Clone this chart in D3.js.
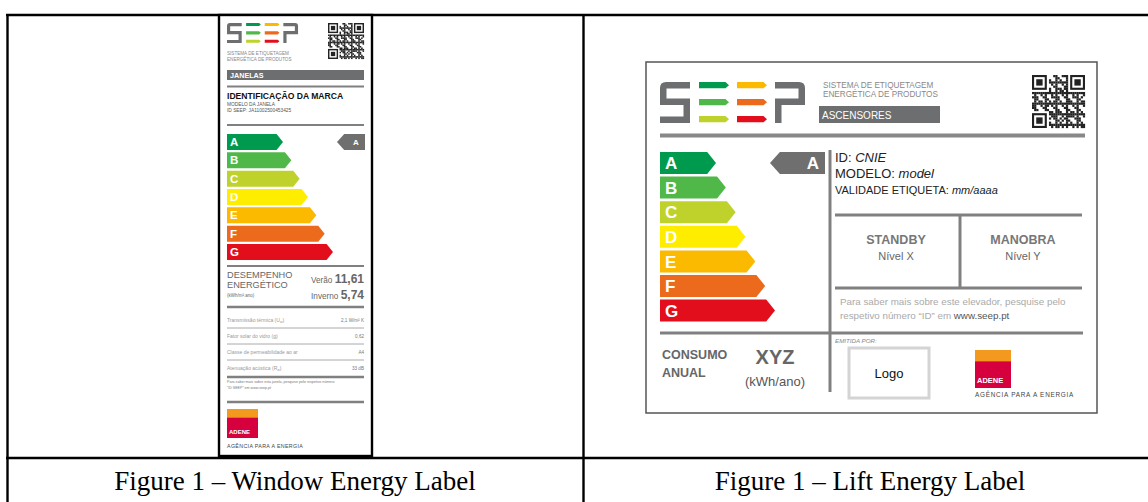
<!DOCTYPE html>
<html lang="pt">
<head>
<meta charset="utf-8">
<title>SEEP energy labels</title>
<script src="https://cdn.jsdelivr.net/npm/d3@7"></script>
<style>
  body { margin: 0; background: #fff; }
  svg text { font-family: "Liberation Sans", Arial, sans-serif; }
  .caption { font-family: "Liberation Serif", "Times New Roman", serif !important; }
</style>
</head>
<body>
<script>
// data
var classes = ["A", "B", "C", "D", "E", "F", "G"];
var windowClass = "A";
var liftClass = "A";
var windowId = "JA11002500453425";
var seasonNames = ["Verão", "Inverno"];
var seasonValues = ["11,61", "5,74"];
var specNames = ["Transmissão térmica (U", "Fator solar do vidro (g)", "Classe de permeabilidade ao ar", "Atenuação acústica (R"];
var specSubs = ["w", "", "", "w"];
var specValues = ["2,1 W/m² K", "0,62", "A4", "33 dB"];
var liftModes = ["STANDBY", "MANOBRA"];
var liftLevels = ["Nível X", "Nível Y"];
var captions = ["Figure 1 – Window Energy Label", "Figure 1 – Lift Energy Label"];

var W = 1148, H = 502;
var gray = "#6d6e70";
var colour = d3.scaleOrdinal().domain(classes)
  .range(["#009a4e", "#50b848", "#bfd22b", "#ffed00", "#fbb900", "#ec6a1c", "#e30e1c"]);

var svg = d3.select("body").append("svg").attr("width", W).attr("height", H);

// ---------- table ----------
var table = svg.append("g").attr("stroke", "#000").attr("stroke-width", 2.4);
table.append("line").attr("x1", 6).attr("x2", W).attr("y1", 15).attr("y2", 15);
table.append("line").attr("x1", 6).attr("x2", W).attr("y1", 458).attr("y2", 458);
table.append("line").attr("x1", 7.5).attr("x2", 7.5).attr("y1", 14).attr("y2", H);
table.append("line").attr("x1", 583.5).attr("x2", 583.5).attr("y1", 14).attr("y2", H);

var capX = d3.scalePoint().domain(captions).range([295, 870]);
svg.selectAll("text.caption").data(captions).enter().append("text")
  .attr("class", "caption")
  .attr("x", function(d) { return capX(d); })
  .attr("y", 490)
  .attr("text-anchor", "middle")
  .attr("font-size", 27)
  .text(function(d) { return d; });

// ---------- helpers ----------
function seepLogo(g, x, y, k) {
  var lg = g.append("g").attr("transform", "translate(" + x + "," + y + ") scale(" + k + ")");
  var t = 6.5;
  // S
  lg.append("path").attr("fill", gray)
    .attr("d", "M6,0 H30 V" + t + " H" + t + " V16.5 H30 V41 H0 V" + (41 - t) + " H" + (30 - t) + " V" + (16.5 + t) + " H0 V6 Q0,0 6,0 Z");
  // P
  lg.append("path").attr("fill", gray)
    .attr("d", "M115,0 H139 Q145,0 145,6 V" + (16.5 + t) + " H" + (115 + t) + " V41 H115 V16.5 H" + (145 - t) + " V" + t + " H115 Z");
  // arrows
  var cols = [["A", "B", "C"], ["E", "F", "G"]];
  cols.forEach(function(col, ci) {
    col.forEach(function(c, ri) {
      var x0 = 39 + ci * 38, y0 = ri * 17, w = 30, h = 6.3;
      lg.append("path").attr("fill", colour(c))
        .attr("d", "M" + x0 + "," + y0 + " H" + (x0 + w - 3.5) + " L" + (x0 + w) + "," + (y0 + h / 2) +
          " L" + (x0 + w - 3.5) + "," + (y0 + h) + " H" + x0 + " Z");
    });
  });
}

function qr(g, x, y, size) {
  var n = 25, m = size / n;
  var q = g.append("g").attr("transform", "translate(" + x + "," + y + ")");
  var cells = [];
  for (var i = 0; i < n; i++) for (var j = 0; j < n; j++) {
    var finder = (i < 8 && j < 8) || (i < 8 && j >= n - 8) || (i >= n - 8 && j < 8);
    if (finder) continue;
    if (((i * 7 + j * 11 + i * j * 3) % 5) < 2 || ((i + j * j) % 7 === 0)) cells.push([i, j]);
  }
  q.selectAll("rect.m").data(cells).enter().append("rect")
    .attr("x", function(d) { return d[1] * m; }).attr("y", function(d) { return d[0] * m; })
    .attr("width", m + 0.1).attr("height", m + 0.1).attr("fill", "#222");
  [[0, 0], [0, n - 7], [n - 7, 0]].forEach(function(p) {
    q.append("rect").attr("x", p[1] * m + m / 2).attr("y", p[0] * m + m / 2)
      .attr("width", 6 * m).attr("height", 6 * m).attr("fill", "none").attr("stroke", "#222").attr("stroke-width", m);
    q.append("rect").attr("x", (p[1] + 2) * m).attr("y", (p[0] + 2) * m)
      .attr("width", 3 * m).attr("height", 3 * m).attr("fill", "#222");
  });
}

function adene(g, x, y, w, h, fs, agfs, agy, ls) {
  g.append("rect").attr("x", x).attr("y", y).attr("width", w).attr("height", h).attr("fill", "#d5003d");
  g.append("rect").attr("x", x).attr("y", y).attr("width", w).attr("height", h * 0.3).attr("fill", "#f39a1e");
  g.append("text").attr("x", x + 2).attr("y", y + h - h * 0.14).attr("font-size", fs)
    .attr("font-weight", "bold").attr("fill", "#fff").text("ADENE");
  g.append("text").attr("x", x).attr("y", agy).attr("font-size", agfs).attr("letter-spacing", ls)
    .attr("fill", "#444").text("AGÊNCIA PARA A ENERGIA");
}

function classBars(g, y, x, x0, fs, dx) {
  var h = y.bandwidth(), d = h * 0.4;
  var bars = g.selectAll("g.bar").data(classes).enter().append("g").attr("class", "bar");
  bars.append("path").attr("fill", function(c) { return colour(c); })
    .attr("d", function(c, i) {
      var t = x(i), y0 = y(c);
      return "M" + x0 + "," + y0 + " H" + (t - d) + " L" + t + "," + (y0 + h / 2) +
        " L" + (t - d) + "," + (y0 + h) + " H" + x0 + " Z";
    });
  bars.append("text").attr("x", x0 + dx).attr("y", function(c) { return y(c) + h / 2 + fs * 0.36; })
    .attr("font-size", fs).attr("font-weight", "bold").attr("fill", "#fff").text(function(c) { return c; });
}

function indicator(g, y, c, x0, x1, fs, lx) {
  var h = y.bandwidth(), d = h * 0.45, y0 = y(c);
  g.append("path").attr("fill", "#6f6f6f")
    .attr("d", "M" + x1 + "," + y0 + " V" + (y0 + h) + " H" + (x0 + d) + " L" + x0 + "," + (y0 + h / 2) +
      " L" + (x0 + d) + "," + y0 + " Z");
  g.append("text").attr("x", lx).attr("y", y0 + h / 2 + fs * 0.36).attr("text-anchor", "middle")
    .attr("font-size", fs).attr("font-weight", "bold").attr("fill", "#fff").text(c);
}

function hline(g, x1, x2, y, sw, col) {
  g.append("line").attr("x1", x1).attr("x2", x2).attr("y1", y).attr("y2", y)
    .attr("stroke", col || "#808080").attr("stroke-width", sw);
}

// ---------- window label ----------
var wl = svg.append("g");
wl.append("rect").attr("x", 219).attr("y", 15).attr("width", 153).attr("height", 441)
  .attr("fill", "#fff").attr("stroke", "#000").attr("stroke-width", 2.4);
seepLogo(wl, 227, 23, 0.49);
qr(wl, 328, 23, 36);
wl.append("text").attr("x", 227).attr("y", 55).attr("font-size", 4.6).attr("fill", "#888").text("SISTEMA DE ETIQUETAGEM");
wl.append("text").attr("x", 227).attr("y", 61).attr("font-size", 4.6).attr("fill", "#888").text("ENERGÉTICA DE PRODUTOS");
wl.append("rect").attr("x", 227).attr("y", 70).attr("width", 137).attr("height", 10).attr("fill", gray);
wl.append("text").attr("x", 230).attr("y", 78).attr("font-size", 7.2).attr("font-weight", "bold").attr("fill", "#fff").text("JANELAS");
hline(wl, 227, 364, 86.5, 2);
wl.append("text").attr("x", 227).attr("y", 99).attr("font-size", 8.6).attr("font-weight", "bold").attr("fill", "#111").text("IDENTIFICAÇÃO DA MARCA");
wl.append("text").attr("x", 227).attr("y", 106).attr("font-size", 4.8).attr("fill", "#555").text("MODELO DA JANELA");
wl.append("text").attr("x", 227).attr("y", 112).attr("font-size", 4.8).attr("fill", "#555").text("ID SEEP:  " + windowId);
hline(wl, 227, 364, 125, 2);

var yW = d3.scaleBand().domain(classes).range([134, 260]).paddingInner(0.125);
var xW = d3.scaleLinear().domain([0, classes.length - 1]).range([283, 333]);
classBars(wl, yW, xW, 227, 11.5, 3);
indicator(wl, yW, windowClass, 337, 365, 8, 356);
hline(wl, 227, 364, 266, 2.2);

wl.append("text").attr("x", 227).attr("y", 278).attr("font-size", 9.2).attr("fill", "#666").text("DESEMPENHO");
wl.append("text").attr("x", 227).attr("y", 288).attr("font-size", 9.2).attr("fill", "#666").text("ENERGÉTICO");
wl.append("text").attr("x", 227).attr("y", 297).attr("font-size", 4.5).attr("fill", "#666").text("(kWh/m².ano)");
seasonNames.forEach(function(s, i) {
  var t = wl.append("text").attr("x", 364).attr("y", 283 + i * 16).attr("text-anchor", "end").attr("fill", "#666");
  t.append("tspan").attr("font-size", 8.2).text(s + " ");
  t.append("tspan").attr("font-size", 12).attr("font-weight", "bold").text(seasonValues[i]);
});
hline(wl, 227, 364, 307, 2.4);
var rowY = d3.scaleBand().domain(specNames).range([312, 376]);
specNames.forEach(function(s, i) {
  var yy = rowY(s) + rowY.bandwidth() / 2 + 2;
  var t = wl.append("text").attr("x", 227).attr("y", yy).attr("font-size", 5).attr("fill", "#999").text(s);
  if (specSubs[i]) {
    t.append("tspan").attr("font-size", 3.5).attr("dy", 1).text(specSubs[i]);
    t.append("tspan").attr("dy", -1).text(")");
  }
  wl.append("text").attr("x", 364).attr("y", yy).attr("text-anchor", "end").attr("font-size", 4.6)
    .attr("fill", "#777").text(specValues[i]);
  if (i > 0) hline(wl, 227, 364, rowY(s), 1, "#aaa");
});
hline(wl, 227, 364, 377, 2.4);
wl.append("text").attr("x", 227).attr("y", 383).attr("font-size", 3.6).attr("fill", "#777")
  .text("Para saber mais sobre esta janela, pesquise pelo respetivo número");
wl.append("text").attr("x", 227).attr("y", 388.5).attr("font-size", 3.6).attr("fill", "#777")
  .text("“ID SEEP” em www.seep.pt");
hline(wl, 227, 364, 402, 2.4);
adene(wl, 227, 409, 31, 29, 6, 5.3, 448, 0.35);

// ---------- lift label ----------
var ll = svg.append("g");
ll.append("rect").attr("x", 646).attr("y", 62).attr("width", 451).attr("height", 351)
  .attr("fill", "#fff").attr("stroke", "#555").attr("stroke-width", 1.5);
seepLogo(ll, 660, 82, 1);
qr(ll, 1032, 75, 53);
ll.append("text").attr("x", 823).attr("y", 88).attr("font-size", 8.2).attr("fill", "#888").text("SISTEMA DE ETIQUETAGEM");
ll.append("text").attr("x", 823).attr("y", 97).attr("font-size", 8.2).attr("fill", "#888").text("ENERGÉTICA DE PRODUTOS");
ll.append("rect").attr("x", 819).attr("y", 106).attr("width", 121).attr("height", 17).attr("fill", gray);
ll.append("text").attr("x", 822).attr("y", 118.5).attr("font-size", 10).attr("fill", "#fff").text("ASCENSORES");
hline(ll, 660, 1085, 135.5, 4, "#888");

var yL = d3.scaleBand().domain(classes).range([152, 321.6]).paddingInner(0.106);
var xL = d3.scaleLinear().domain([0, classes.length - 1]).range([716, 775]);
classBars(ll, yL, xL, 660, 17, 5);
indicator(ll, yL, liftClass, 770, 825, 17, 813);

ll.append("line").attr("x1", 830).attr("x2", 830).attr("y1", 150).attr("y2", 392).attr("stroke", "#808080").attr("stroke-width", 3);
var idLines = [["ID: ", "CNIE", 13], ["MODELO: ", "model", 13], ["VALIDADE ETIQUETA: ", "mm/aaaa", 11]];
idLines.forEach(function(r, i) {
  var t = ll.append("text").attr("x", 835).attr("y", 162 + i * 16).attr("font-size", r[2]).attr("fill", "#222");
  t.append("tspan").text(r[0]);
  t.append("tspan").attr("font-style", "italic").text(r[1]);
});
hline(ll, 835, 1082, 215, 3);
hline(ll, 835, 1082, 288, 3);
ll.append("line").attr("x1", 960).attr("x2", 960).attr("y1", 215).attr("y2", 288).attr("stroke", "#808080").attr("stroke-width", 3);
var modeX = d3.scalePoint().domain(liftModes).range([896, 1023]);
liftModes.forEach(function(m, i) {
  ll.append("text").attr("x", modeX(m)).attr("y", 244).attr("text-anchor", "middle").attr("font-size", 12.5)
    .attr("font-weight", "bold").attr("fill", "#777").text(m);
  ll.append("text").attr("x", modeX(m)).attr("y", 260).attr("text-anchor", "middle").attr("font-size", 11)
    .attr("fill", "#666").text(liftLevels[i]);
});
ll.append("text").attr("x", 840).attr("y", 305).attr("font-size", 9.8).attr("fill", "#aaa")
  .text("Para saber mais sobre este elevador, pesquise pelo");
var ws = ll.append("text").attr("x", 840).attr("y", 319).attr("font-size", 9.8).attr("fill", "#aaa");
ws.append("tspan").text("respetivo número “ID” em ");
ws.append("tspan").attr("fill", "#555").text("www.seep.pt");
hline(ll, 660, 1083, 333, 3);

ll.append("text").attr("x", 662).attr("y", 359).attr("font-size", 12.5).attr("font-weight", "bold").attr("fill", "#666").text("CONSUMO");
ll.append("text").attr("x", 662).attr("y", 377).attr("font-size", 12.5).attr("font-weight", "bold").attr("fill", "#666").text("ANUAL");
ll.append("text").attr("x", 775).attr("y", 364).attr("text-anchor", "middle").attr("font-size", 20).attr("font-weight", "bold").attr("fill", "#666").text("XYZ");
ll.append("text").attr("x", 775).attr("y", 386).attr("text-anchor", "middle").attr("font-size", 13).attr("fill", "#555").text("(kWh/ano)");
ll.append("text").attr("x", 835).attr("y", 343).attr("font-size", 6.2).attr("font-style", "italic").attr("fill", "#888").text("EMITIDA POR:");
ll.append("rect").attr("x", 849).attr("y", 348).attr("width", 80).attr("height", 50)
  .attr("fill", "#fff").attr("stroke", "#d4d4d4").attr("stroke-width", 3);
ll.append("text").attr("x", 889).attr("y", 378).attr("text-anchor", "middle").attr("font-size", 13).attr("fill", "#111").text("Logo");
adene(ll, 975, 350, 36, 38, 7.5, 6.4, 397, 0.75);
</script>
</body>
</html>
